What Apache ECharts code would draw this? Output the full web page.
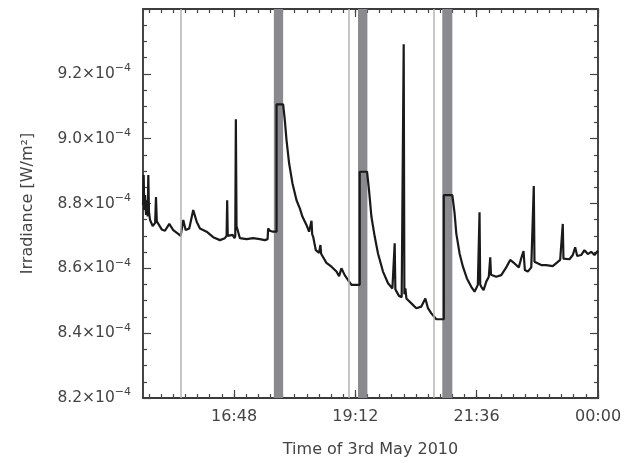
<!DOCTYPE html>
<html>
<head>
<meta charset="utf-8">
<script src="https://cdn.jsdelivr.net/npm/echarts@6/dist/echarts.min.js"></script>
<style>
  html, body { margin: 0; padding: 0; background: #fff; }
  #chart { width: 636px; height: 463px; }
</style>
</head>
<body>
<div id="chart"></div>
<script>
// time in minutes after 00:00 of 3 May 2010, irradiance in units of 1e-4 W/m^2
var times = [
  900.0, 900.8, 901.5, 902.4, 903.6, 904.7, 905.6, 906.3, 907.1, 908.3,
  911.5, 914.4, 915.4, 916.4, 918.1, 922.2, 926.1, 931.2, 935.9, 941.8,
  944.7, 947.8, 950.6, 954.9, 959.6, 963.7, 967.6, 975.5, 983.3, 991.3,
  997.2, 999.2, 999.9, 1000.6, 1002.3, 1006.3, 1008.7, 1009.5, 1010.2, 1011.0,
  1011.8, 1015.0, 1022.9, 1030.7, 1038.7, 1044.6, 1047.9, 1048.5, 1050.5, 1054.4, 1058.5,
  1058.5, 1066.3, 1068.3, 1070.3, 1073.4, 1077.4, 1082.2, 1086.1, 1089.3, 1094.0,
  1097.1, 1099.2, 1100.0, 1100.8, 1101.9, 1105.1, 1109.0, 1110.6, 1111.4, 1113.0,
  1117.7, 1123.7, 1129.6, 1132.7, 1135.5, 1139.4, 1143.3, 1147.4, 1157.2, 1157.2,
  1165.9, 1168.3, 1171.1, 1175.0, 1178.9, 1184.8, 1190.8, 1196.0, 1198.0, 1198.7,
  1199.5, 1200.7, 1203.8, 1207.0, 1208.6, 1209.4, 1210.2, 1211.4, 1212.6, 1218.5,
  1224.4, 1230.3, 1235.1, 1238.2, 1242.2, 1248.1, 1257.0, 1257.0, 1267.1, 1269.8,
  1271.8, 1275.7, 1279.7, 1284.4, 1289.6, 1293.5, 1295.5, 1297.4, 1298.6, 1299.4,
  1300.2, 1301.5, 1304.2, 1307.4, 1310.4, 1312.1, 1313.0, 1314.5, 1319.2, 1325.2,
  1331.1, 1335.8, 1340.9, 1346.0, 1348.9, 1351.6, 1353.2, 1356.7, 1360.8, 1363.0,
  1363.8, 1364.6, 1366.7, 1372.6, 1378.5, 1386.3, 1392.3, 1395.1, 1397.4, 1398.2,
  1399.0, 1400.6, 1406.1, 1410.1, 1412.9, 1415.3, 1420.0, 1423.9, 1427.9, 1431.9,
  1435.8, 1440.0
];
var irradiance = [
  8.795, 8.888, 8.780, 8.826, 8.765, 8.810, 8.760, 8.888, 8.774, 8.750,
  8.730, 8.740, 8.820, 8.745, 8.740, 8.720, 8.716, 8.737, 8.718, 8.706,
  8.700, 8.749, 8.718, 8.723, 8.780, 8.744, 8.723, 8.713, 8.696, 8.687,
  8.693, 8.700, 8.810, 8.700, 8.697, 8.703, 8.693, 8.700, 9.060, 8.730,
  8.723, 8.693, 8.690, 8.693, 8.690, 8.687, 8.690, 8.723, 8.716, 8.713, 8.713,
  9.106, 9.106, 9.058, 8.996, 8.924, 8.862, 8.810, 8.785, 8.759, 8.734,
  8.713, 8.710, 8.747, 8.705, 8.698, 8.656, 8.648, 8.672, 8.645, 8.641,
  8.617, 8.605, 8.590, 8.576, 8.600, 8.579, 8.564, 8.549, 8.549, 8.898,
  8.898, 8.840, 8.759, 8.698, 8.646, 8.590, 8.554, 8.538, 8.536, 8.677,
  8.535, 8.533, 8.515, 8.511, 8.510, 9.291, 8.520, 8.538, 8.507, 8.492,
  8.477, 8.482, 8.507, 8.477, 8.461, 8.443, 8.443, 8.826, 8.826, 8.770,
  8.708, 8.646, 8.605, 8.569, 8.543, 8.528, 8.525, 8.549, 8.550, 8.773,
  8.550, 8.543, 8.533, 8.559, 8.574, 8.634, 8.580, 8.582, 8.574, 8.579,
  8.603, 8.626, 8.615, 8.603, 8.631, 8.653, 8.595, 8.590, 8.603, 8.605,
  8.854, 8.620, 8.615, 8.610, 8.610, 8.607, 8.620, 8.626, 8.626, 8.737,
  8.630, 8.626, 8.628, 8.641, 8.665, 8.638, 8.641, 8.656, 8.644, 8.651,
  8.641, 8.654
];
// shaded intervals and thin grey markers (minutes)
var bands = [[1055.3, 1066.3], [1155.2, 1166.3], [1255.2, 1267.1]];
var markerLines = [944.7, 1144.5, 1244.5];
// x tick labels
var xMajorTicks = [1008, 1152, 1296, 1440];
var xMajorLabels = ['16:48', '19:12', '21:36', '00:00'];
var xMin = 900, xMax = 1440;

// tick slots every 7.2 min (minor ticks every 14.4 min, majors every 144 min)
var tickSlots = [];
for (var i = 0; i <= 75; i++) tickSlots.push(String(Math.round((xMin + i * 7.2) * 10) / 10));
function isMajor(idx) { return xMajorTicks.indexOf(Math.round(Number(tickSlots[idx]))) >= 0 && idx % 5 === 0; }
function isMinor(idx) { return idx % 2 === 1; }

var font = 'DejaVu Sans';
var textColor = '#444';
var axisColor = '#3a3a3a';
var tickColor = '#444';

var chart = echarts.init(document.getElementById('chart'));

function tickAxis(pos, filter, len, showLabel) {
  return {
    type: 'category', position: pos, data: tickSlots, boundaryGap: false,
    axisLine: { show: true, onZero: false, lineStyle: { color: axisColor, width: 1.5 } },
    splitLine: { show: false },
    axisTick: { show: true, inside: true, length: len,
      interval: function (idx) { return filter(idx); },
      lineStyle: { color: tickColor, width: 1.2 } },
    axisLabel: showLabel ? {
      show: true, margin: 11,
      interval: function (idx) { return isMajor(idx); },
      fontFamily: font, fontSize: 16, color: textColor,
      formatter: function (v) {
        var k = xMajorTicks.indexOf(Math.round(Number(v)));
        return k >= 0 ? xMajorLabels[k] : '';
      }
    } : { show: false }
  };
}

var xAxes = [
  {
    type: 'value', position: 'bottom', min: xMin, max: xMax,
    axisLine: { show: true, onZero: false, lineStyle: { color: axisColor, width: 1.5 } },
    axisTick: { show: false }, axisLabel: { show: false }, splitLine: { show: false },
    name: 'Time of 3rd May 2010', nameLocation: 'middle', nameGap: 44,
    nameTextStyle: { fontFamily: font, fontSize: 16, color: textColor }
  },
  tickAxis('bottom', isMajor, 8, true),
  tickAxis('bottom', isMinor, 4, false),
  tickAxis('top', isMajor, 8, false),
  tickAxis('top', isMinor, 4, false)
];

function yAxis(pos, showLabel) {
  return {
    type: 'value', position: pos, min: 8.2, max: 9.4, interval: 0.2,
    axisLine: { show: true, onZero: false, lineStyle: { color: axisColor, width: 1.5 } },
    splitLine: { show: false },
    axisTick: { show: true, inside: true, length: 8, lineStyle: { color: tickColor, width: 1.2 } },
    minorTick: { show: true, splitNumber: 4, length: 4, lineStyle: { color: tickColor, width: 1.2 } },
    axisLabel: showLabel ? {
      show: true, margin: 12, fontFamily: font, fontSize: 15, color: textColor,
      formatter: function (v) {
        if (v > 9.35) return '';
        return '{m|' + v.toFixed(1) + '×10}{s|−4}';
      },
      rich: {
        m: { fontFamily: font, fontSize: 15.5, color: textColor, lineHeight: 22 },
        s: { fontFamily: font, fontSize: 11, color: textColor, lineHeight: 12, verticalAlign: 'top' }
      }
    } : { show: false }
  };
}

var yLeft = yAxis('left', true);
yLeft.name = 'Irradiance [W/m²]';
yLeft.nameLocation = 'middle';
yLeft.nameGap = 107;
yLeft.nameTextStyle = { fontFamily: font, fontSize: 16, color: textColor };

var lineData = times.map(function (t, i) { return [t, irradiance[i]]; });

var option = {
  animation: false,
  backgroundColor: '#fff',
  grid: {
    left: 143, right: 38, top: 9, bottom: 65,
    outerBoundsMode: 'none', containLabel: false,
    show: true, borderColor: axisColor, borderWidth: 1.5, backgroundColor: 'transparent'
  },
  xAxis: xAxes,
  yAxis: [yLeft, yAxis('right', false)],
  series: [
    {
      type: 'line', data: [], z: 1, silent: true, xAxisIndex: 0, yAxisIndex: 0,
      markArea: {
        silent: true,
        itemStyle: { color: '#8a8a8e' },
        data: bands.map(function (b) { return [{ xAxis: b[0] }, { xAxis: b[1] }]; })
      },
      markLine: {
        silent: true, symbol: ['none', 'none'],
        label: { show: false },
        lineStyle: { color: '#b3b3b3', width: 1.5, type: 'solid' },
        data: markerLines.map(function (x) { return { xAxis: x }; })
      }
    },
    {
      type: 'line', data: lineData, z: 3, xAxisIndex: 0, yAxisIndex: 0,
      showSymbol: false,
      lineStyle: { color: '#1a1a1a', width: 2.2 },
      itemStyle: { color: '#1a1a1a' }
    }
  ]
};
chart.setOption(option);
</script>
</body>
</html>
